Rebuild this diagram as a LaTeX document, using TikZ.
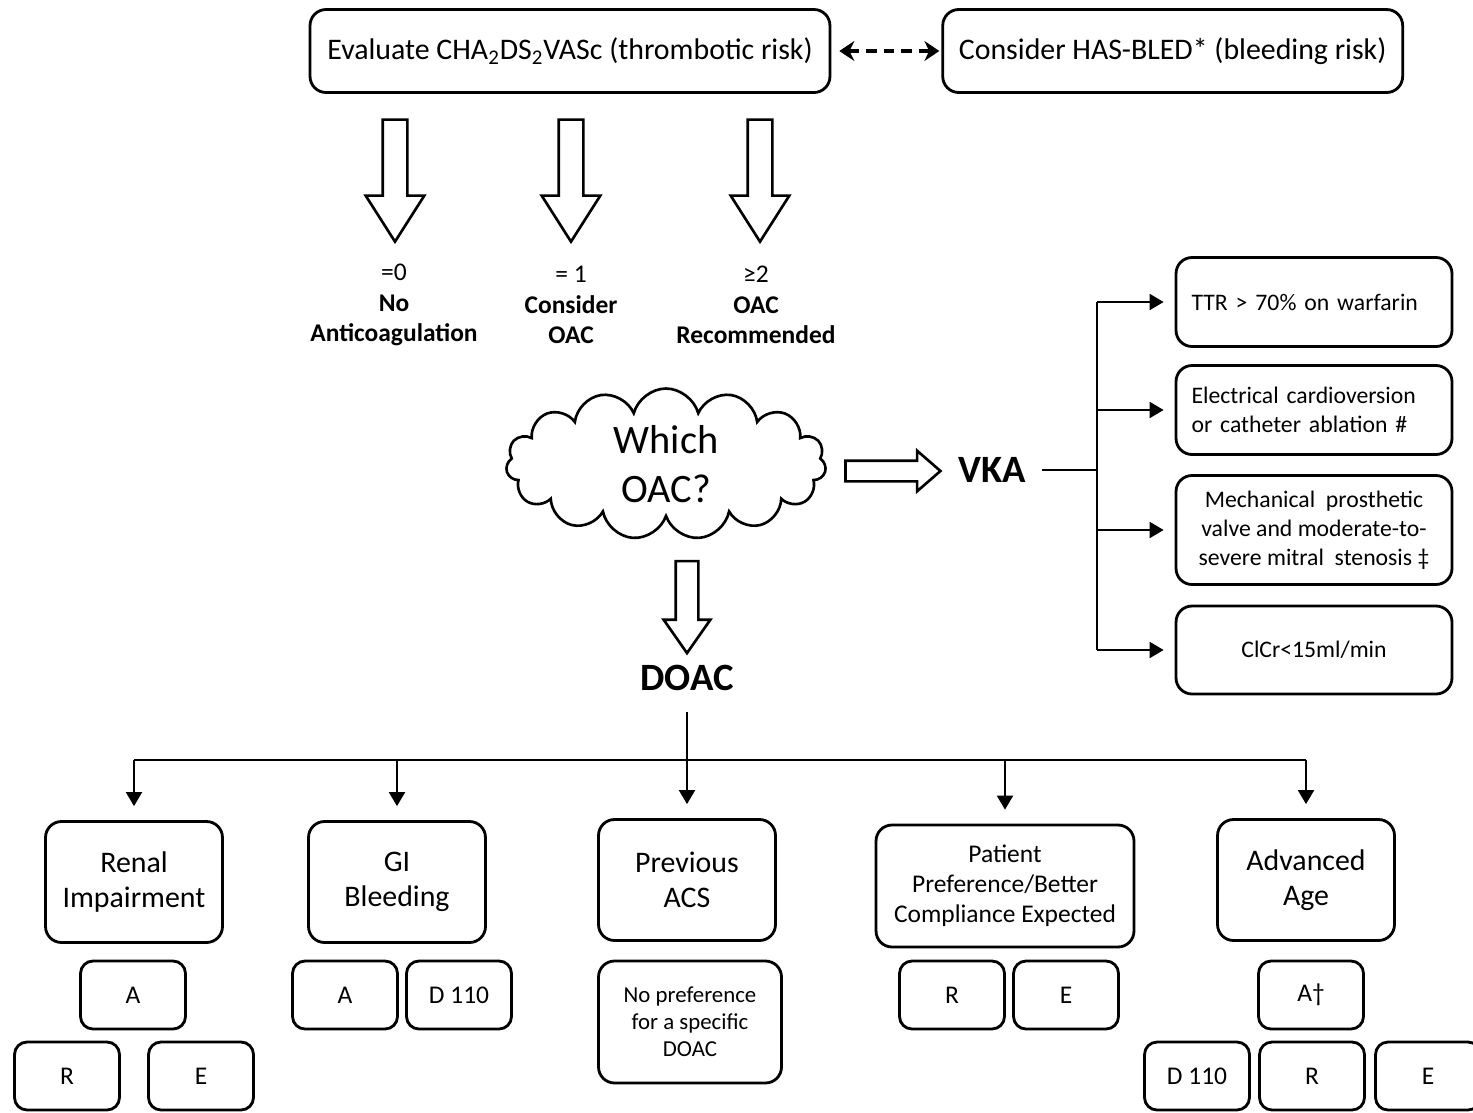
\documentclass[tikz,border=0pt]{standalone}
\usepackage{fontspec}
\setmainfont{Carlito}
\usetikzlibrary{shapes.symbols,shapes.arrows,arrows.meta,positioning}

\tikzset{
  box/.style={draw, line width=1.6pt, rounded corners=0.32cm, align=center, inner sep=2pt},
  topbox/.style={box, minimum height=1.66cm, font=\fontsize{17}{20}\selectfont},
  sidebox/.style={box, minimum width=5.52cm, font=\fontsize{13.5}{16.5}\selectfont},
  catbox/.style={box, minimum width=3.54cm, minimum height=2.42cm, font=\fontsize{17}{20}\selectfont},
  drug/.style={box, rounded corners=0.25cm, minimum width=2.1cm, minimum height=1.36cm, font=\fontsize{14.5}{17}\selectfont},
  hollow/.style={draw, single arrow, line width=1.5pt, inner sep=0pt, minimum width=0pt},
  lbl/.style={align=center, font=\fontsize{14.5}{17.5}\selectfont},
  big/.style={font=\bfseries\fontsize{22}{26}\selectfont},
  line/.style={line width=1.1pt},
  arr/.style={line, -{Triangle[length=0.28cm, width=0.32cm]}},
  dasharr/.style={line width=2pt, dash pattern=on 6pt off 4pt,
    {Stealth[length=0.3cm, width=0.4cm]}-{Stealth[length=0.3cm, width=0.4cm]}}
}

\begin{document}
\begin{tikzpicture}[x=0.02cm, y=-0.02cm]
  \useasboundingbox (0,0) rectangle (1473,1112);

  % risk scores
  \node[topbox, minimum width=10.4cm] (eval) at (570,51)
    {Evaluate CHA\textsubscript{2}DS\textsubscript{2}VASc (thrombotic risk)};
  \node[topbox, minimum width=9.2cm, right=2.2cm of eval] (hasbled)
    {Consider HAS-BLED* (bleeding risk)};
  \draw[dasharr, shorten <=0.16cm, shorten >=0.04cm] (eval) -- (hasbled);

  \node[hollow, rotate=-90, minimum height=2.44cm, inner ysep=0.22cm,
    single arrow head extend=0.34cm, single arrow tip angle=65] (d0) at (395,171) {};
  \node[hollow, rotate=-90, minimum height=2.44cm, inner ysep=0.22cm,
    single arrow head extend=0.34cm, single arrow tip angle=65] (d1) at (571,171) {};
  \node[hollow, rotate=-90, minimum height=2.44cm, inner ysep=0.22cm,
    single arrow head extend=0.34cm, single arrow tip angle=65] (d2) at (760,171) {};

  \node[lbl] (s0) at (394,305) {=0\\\textbf{No}\\\textbf{Anticoagulation}};
  \node[lbl] (s1) at (571,305) {= 1\\\textbf{Consider}\\\textbf{OAC}};
  \node[lbl] (s2) at (756,305) {≥2\\\textbf{OAC}\\\textbf{Recommended}};

  % which OAC
  \node[cloud, draw, line width=1.5pt, cloud puffs=15, aspect=2.5, align=center,
    minimum width=6.4cm, minimum height=2.6cm, inner sep=0pt,
    font=\fontsize{23}{28}\selectfont]
    (which) at (666,464) {Which\\OAC?};

  \node[hollow, minimum height=1.9cm, inner ysep=0.18cm,
    single arrow head extend=0.2cm, single arrow tip angle=82] (rv) at (887,471) {};
  \node[big] (vka) at (992,470) {VKA};

  \node[sidebox, minimum height=1.78cm, text width=4.9cm, align=left] (ttr) at (1314,302)
    {TTR > 70\% on warfarin};
  \node[sidebox, minimum height=1.78cm, text width=4.9cm, align=left] (ecv) at (1314,410)
    {Electrical cardioversion\\or catheter ablation \#};
  \node[sidebox, minimum height=2.18cm] (mech) at (1314,530)
    {Mechanical\ \ prosthetic\\valve and moderate-to-\\severe mitral\ \ stenosis ‡};
  \node[sidebox, minimum height=1.76cm] (clcr) at (1314,650) {ClCr<15ml/min};

  \coordinate (vj) at (1097,470);
  \draw[line, shorten <=0.2cm] (vka) -- (vj);
  \draw[line] (vj |- ttr) -- (vj |- clcr);
  \foreach \n in {ttr,ecv,mech,clcr}
    \draw[arr, shorten >=0.22cm] (vj |- \n) -- (\n);

  % DOAC
  \node[hollow, rotate=-90, minimum height=1.84cm, inner ysep=0.2cm,
    single arrow head extend=0.24cm, single arrow tip angle=70] (dd) at (687,599) {};
  \node[big] (doac) at (687,678) {DOAC};

  \node[catbox] (renal) at (134,882) {Renal\\Impairment};
  \node[catbox] (gi) at (397,882) {GI\\Bleeding};
  \node[catbox] (prev) at (687,880) {Previous\\ACS};
  \node[catbox, minimum width=5.16cm, minimum height=2.44cm,
    font=\fontsize{14.5}{17}\selectfont] (pat) at (1005,886)
    {Patient\\Preference/Better\\Compliance Expected};
  \node[catbox] (adv) at (1306,880) {Advanced\\Age};

  \coordinate (bus) at (687,760);
  \draw[line] (renal |- bus) -- (adv |- bus);
  \draw[arr, shorten <=0.3cm, shorten >=0.28cm] (doac) -- (prev);
  \foreach \n in {renal,gi,pat,adv}
    \draw[arr, shorten >=0.28cm] (\n |- bus) -- (\n);

  % agents
  \node[drug] (ra) at (133,995) {A};
  \node[drug] (rr) at (67,1076) {R};
  \node[drug] (re) at (201,1076) {E};
  \node[drug] (ga) at (345,995) {A};
  \node[drug] (gd) at (459,995) {D 110};
  \node[box, minimum width=3.66cm, minimum height=2.44cm,
    font=\fontsize{13}{15.3}\selectfont] (np) at (690,1022)
    {No preference\\for a specific\\DOAC};
  \node[drug] (pr) at (952,995) {R};
  \node[drug] (pe) at (1066,995) {E};
  \node[drug] (aa) at (1311,995) {A†};
  \node[drug] (ad) at (1197,1076) {D 110};
  \node[drug] (ar) at (1312,1076) {R};
  \node[drug] (ae) at (1428,1076) {E};
\end{tikzpicture}
\end{document}
